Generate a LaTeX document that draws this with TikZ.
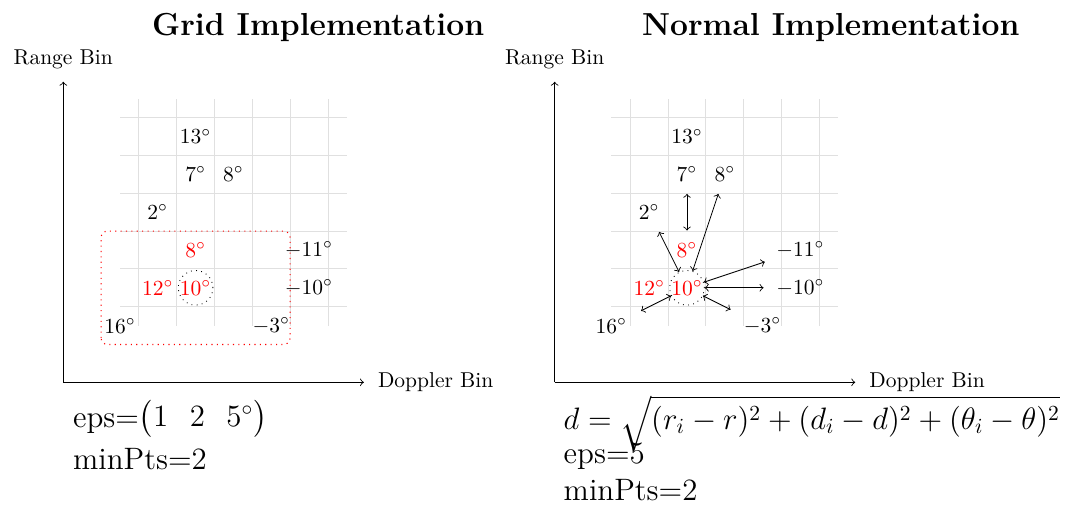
\documentclass[tikz,border=0pt]{standalone}
\usepackage{amsmath}
\newcommand{\panelcontent}[1]{%
  \foreach \k in {0.5,1.5,...,5.5} {
    \draw[gridline] (\k,0) -- (\k,6);
    \draw[gridline] (0,\k) -- (6,\k);
  }
  \coordinate (#1o) at (-1.5,-1.5);
  \coordinate (#1ytop) at (-1.5,6.45);
  \coordinate (#1xend) at (6.45,-1.5);
  \draw[axis] (#1o) -- (#1ytop);
  \draw[axis] (#1o) -- (#1xend);
  \node[axlabel] (#1rb) at (-1.5,7.05) {Range Bin};
  \node[axlabel] (#1db) at (8.35,-1.5) {Doppler Bin};
  \node[ang] (#1n13) at (2,5) {$13^\circ$};
  \node[ang] (#1n7) at (2,4) {$7^\circ$};
  \node[ang] (#1n8) at (3,4) {$8^\circ$};
  \node[ang] (#1n2) at (1,3) {$2^\circ$};
  \node[hot] (#1r8) at (2,2) {$8^\circ$};
  \node[ang] (#1n11) at (5,2) {$-11^\circ$};
  \node[hot] (#1r12) at (1,1) {$12^\circ$};
  \node[core] (#1r10) at (2,1) {$10^\circ$};
  \node[ang] (#1n10) at (5,1) {$-10^\circ$};
  \node[ang] (#1n16) at (0,0) {$16^\circ$};
  \node[ang] (#1n3) at (4,0) {$-3^\circ$};
}
\begin{document}
\begin{tikzpicture}[x=0.465pt,y=-0.465pt,
  ang/.style={circle, inner sep=3.33pt, font=\fontsize{10}{12}\selectfont},
  hot/.style={ang, text=red},
  core/.style={circle, draw=black, dotted, inner sep=0pt, text=red, font=\fontsize{10}{12}\selectfont},
  gridline/.style={black!12, line width=0.4pt},
  axis/.style={->, line width=0.4pt},
  dist/.style={<->, line width=0.4pt},
  cluster/.style={red, dotted, rounded corners=3pt, line width=0.5pt},
  title/.style={inner sep=0pt, anchor=base west, font=\bfseries\fontsize{14.8}{17}\selectfont},
  note/.style={inner sep=0pt, anchor=base west, font=\fontsize{14.4}{17}\selectfont},
  axlabel/.style={inner sep=0pt, font=\fontsize{10}{12}\selectfont}]
\useasboundingbox (0,0) rectangle (1077,509);

\node[title] (t1) at (151.7,35) {Grid Implementation};
\node[title] (t2) at (641.7,35) {Normal Implementation};

\begin{scope}[shift={(120,325.6)}, x=17.58pt, y=17.58pt]
  \panelcontent{L}
  \coordinate (Lc1) at (-0.5,-0.5);
  \coordinate (Lc2) at (4.5,2.5);
  \draw[cluster] (Lc1) rectangle (Lc2);
\end{scope}

\begin{scope}[shift={(611.4,325.6)}, x=17.58pt, y=17.58pt]
  \panelcontent{R}
  \draw[dist, shorten <=-1.7pt, shorten >=-1.7pt] (Rr8) -- (Rn7);
  \draw[dist, shorten >=-1.2pt] (Rr10) -- (Rn8);
  \draw[dist, shorten >=-0.5pt] (Rr10) -- (Rn2);
  \draw[dist, shorten >=1.1pt] (Rr10) -- (Rn11);
  \draw[dist, shorten >=0.8pt] (Rr10) -- (Rn10);
  \draw[dist, shorten >=2.5pt] (Rr10) -- (Rn3);
  \draw[dist, shorten >=2.6pt] (Rr10) -- (Rn16);
\end{scope}

\node[note] (e1) at (72.7,427) {eps=$\begin{pmatrix}1 & 2 & 5^\circ\end{pmatrix}$};
\node[note] (m1) at (72.7,469) {minPts=2};
\node[note] (d2) at (563.3,429) {$d=\sqrt{\rule[-8pt]{0pt}{8pt}(r_i-r)^2+(d_i-d)^2+(\theta_i-\theta)^2}$};
\node[note] (e2) at (563.3,463) {eps=5};
\node[note] (m2) at (563.3,500) {minPts=2};
\end{tikzpicture}
\end{document}
